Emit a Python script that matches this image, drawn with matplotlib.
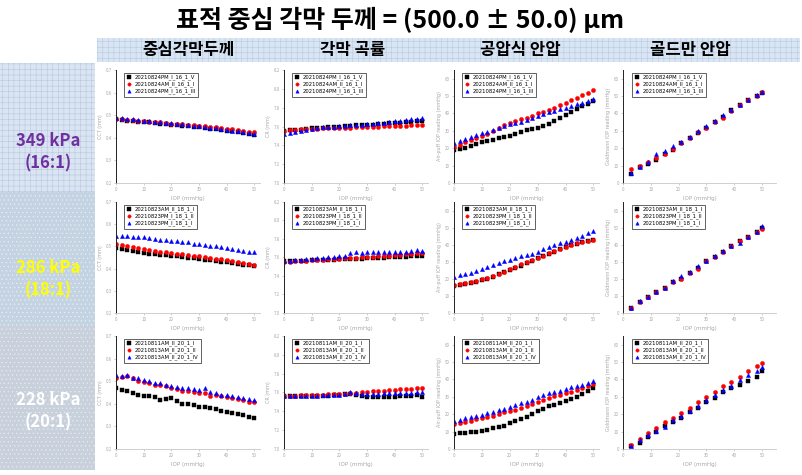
import matplotlib
matplotlib.use('Agg')
import matplotlib.pyplot as plt
from matplotlib.patches import Rectangle
from matplotlib.ticker import FormatStrFormatter

plt.rcParams['font.family'] = ['Noto Sans CJK KR', 'DejaVu Sans']
plt.rcParams['hatch.linewidth'] = 0.4

# ---------------- texts ----------------
title = '표적 중심 각막 두께 = (500.0 ± 50.0) μm'
col_titles = ['중심각막두께', '각막 곡률', '공압식 안압', '골드만 안압']
row_titles = ['349 kPa\n(16:1)', '286 kPa\n(18:1)', '228 kPa\n(20:1)']
y_labels = ['CCT (mm)', 'CR (mm)', 'Air-puff IOP reading (mmHg)', 'Goldmann IOP reading (mmHg)']
x_label = 'IOP (mmHg)'

labels_16 = ['20210824PM_I_16_1_V', '20210824AM_II_16_1_I', '20210824PM_I_16_1_III']
labels_18 = ['20210823AM_II_18_1_I', '20210823PM_I_18_1_II', '20210823PM_I_18_1_I']
labels_20 = ['20210811AM_II_20_1_I', '20210813AM_II_20_1_II', '20210813AM_II_20_1_IV']

# ---------------- x values ----------------
iop = [0, 2, 4, 6, 8, 10, 12, 14, 16, 18, 20, 22, 24, 26, 28, 30, 32, 34, 36, 38, 40, 42, 44, 46, 48, 50]
gat_iop = [3, 6, 9, 12, 15, 18, 21, 24, 27, 30, 33, 36, 39, 42, 45, 48, 50]

# ---------------- 349 kPa (16:1) ----------------
cct16_a = [0.482, 0.480, 0.474, 0.476, 0.471, 0.470, 0.468, 0.466, 0.463, 0.462, 0.458, 0.457, 0.454,
           0.452, 0.449, 0.447, 0.444, 0.441, 0.438, 0.435, 0.432, 0.428, 0.424, 0.420, 0.416, 0.412]
cct16_b = [0.485, 0.483, 0.480, 0.478, 0.476, 0.474, 0.472, 0.470, 0.468, 0.466, 0.463, 0.462, 0.460,
           0.458, 0.455, 0.453, 0.451, 0.448, 0.446, 0.443, 0.440, 0.437, 0.433, 0.430, 0.427, 0.424]
cct16_c = [0.488, 0.486, 0.484, 0.481, 0.478, 0.476, 0.474, 0.472, 0.470, 0.467, 0.465, 0.462, 0.460,
           0.457, 0.454, 0.451, 0.448, 0.445, 0.442, 0.439, 0.436, 0.432, 0.428, 0.425, 0.421, 0.418]
cr16_a = [7.556, 7.560, 7.565, 7.568, 7.574, 7.582, 7.585, 7.589, 7.594, 7.597, 7.600, 7.604, 7.607,
          7.611, 7.614, 7.618, 7.621, 7.625, 7.629, 7.632, 7.636, 7.641, 7.646, 7.651, 7.657, 7.662]
cr16_b = [7.556, 7.560, 7.566, 7.570, 7.575, 7.575, 7.578, 7.580, 7.582, 7.580, 7.582, 7.586, 7.584,
          7.590, 7.595, 7.598, 7.596, 7.600, 7.603, 7.605, 7.608, 7.606, 7.610, 7.612, 7.611, 7.615]
cr16_c = [7.520, 7.530, 7.545, 7.556, 7.568, 7.575, 7.583, 7.590, 7.594, 7.597, 7.605, 7.610, 7.612,
          7.618, 7.621, 7.626, 7.630, 7.634, 7.642, 7.648, 7.655, 7.662, 7.668, 7.676, 7.682, 7.690]
air16_a = [18.8, 19.5, 20.3, 21.4, 22.5, 23.5, 24.2, 25.0, 25.8, 26.5, 27.3, 28.3, 29.5,
           30.2, 30.8, 31.7, 32.8, 34.0, 35.5, 37.5, 39.4, 41.0, 42.6, 44.2, 45.6, 47.1]
air16_b = [20.8, 22.0, 23.3, 24.5, 25.8, 26.9, 28.4, 29.9, 31.5, 33.2, 34.6, 35.5, 36.6,
           37.6, 38.8, 40.0, 41.1, 42.2, 43.3, 44.6, 46.2, 47.6, 49.0, 50.5, 52.0, 53.5]
air16_c = [23.0, 24.0, 25.1, 26.2, 27.4, 28.5, 29.6, 30.6, 31.6, 32.6, 33.7, 34.4, 35.2,
           36.1, 37.3, 38.5, 39.6, 40.6, 41.5, 42.4, 43.3, 44.3, 45.3, 46.3, 47.4, 48.5]
gat16_a = [4.9, 9.2, 11.2, 13.3, 16.9, 19.0, 23.0, 26.1, 28.6, 31.4, 35.3, 38.0, 41.8, 44.7, 47.8, 50.0, 52.0]
gat16_b = [7.8, 9.8, 11.8, 14.1, 16.5, 19.8, 23.0, 26.1, 29.6, 31.8, 35.3, 37.5, 41.5, 44.7, 47.8, 50.2, 52.4]
gat16_c = [5.9, 9.2, 12.3, 16.9, 18.2, 21.4, 23.4, 26.5, 30.0, 33.0, 35.8, 39.2, 41.8, 45.0, 47.8, 50.5, 52.2]

# ---------------- 286 kPa (18:1) ----------------
cct18_a = [0.492, 0.488, 0.484, 0.480, 0.475, 0.470, 0.468, 0.466, 0.463, 0.460, 0.458, 0.455, 0.452,
           0.449, 0.446, 0.443, 0.440, 0.437, 0.434, 0.431, 0.428, 0.424, 0.421, 0.418, 0.414, 0.411]
cct18_b = [0.510, 0.506, 0.501, 0.497, 0.493, 0.488, 0.484, 0.481, 0.477, 0.474, 0.470, 0.467, 0.465,
           0.462, 0.459, 0.455, 0.451, 0.448, 0.445, 0.441, 0.437, 0.433, 0.429, 0.425, 0.421, 0.418]
cct18_c = [0.547, 0.546, 0.546, 0.544, 0.543, 0.541, 0.538, 0.535, 0.531, 0.528, 0.525, 0.523, 0.520,
           0.518, 0.513, 0.510, 0.507, 0.504, 0.500, 0.496, 0.492, 0.488, 0.485, 0.481, 0.477, 0.473]
cr18_a = [7.558, 7.560, 7.562, 7.564, 7.566, 7.568, 7.570, 7.572, 7.575, 7.577, 7.579, 7.580, 7.582,
          7.584, 7.586, 7.590, 7.593, 7.595, 7.598, 7.601, 7.604, 7.606, 7.609, 7.611, 7.613, 7.615]
cr18_b = [7.551, 7.555, 7.558, 7.562, 7.565, 7.568, 7.572, 7.576, 7.579, 7.583, 7.586, 7.590, 7.594,
          7.597, 7.600, 7.604, 7.607, 7.611, 7.615, 7.618, 7.622, 7.628, 7.634, 7.640, 7.647, 7.654]
cr18_c = [7.558, 7.565, 7.572, 7.578, 7.582, 7.586, 7.592, 7.598, 7.602, 7.606, 7.611, 7.620, 7.645,
          7.657, 7.650, 7.664, 7.660, 7.662, 7.658, 7.655, 7.657, 7.660, 7.664, 7.668, 7.680, 7.675]
air18_a = [15.8, 16.5, 17.2, 17.8, 18.4, 19.2, 20.2, 21.3, 22.6, 23.8, 25.0, 26.3, 27.6,
           29.0, 30.6, 32.1, 33.6, 34.8, 36.0, 37.4, 38.8, 39.8, 40.6, 41.4, 42.0, 42.7]
air18_b = [16.2, 17.0, 17.6, 18.2, 18.9, 19.7, 20.7, 21.8, 23.0, 24.3, 25.6, 27.0, 28.6,
           30.0, 31.2, 32.4, 33.6, 34.9, 36.2, 37.6, 38.9, 39.9, 40.8, 41.5, 42.2, 43.0]
air18_c = [21.2, 22.2, 23.0, 23.6, 24.8, 25.8, 27.0, 28.2, 29.2, 30.2, 31.2, 32.3, 33.4,
           34.1, 34.8, 36.0, 37.2, 38.6, 39.8, 40.8, 41.7, 42.6, 43.8, 45.2, 46.6, 48.0]
gat18_a = [3.0, 6.5, 9.5, 12.5, 14.5, 18.3, 20.2, 23.5, 26.3, 30.3, 33.0, 36.0, 39.0, 42.0, 44.5, 47.5, 49.5]
gat18_b = [3.0, 6.3, 9.5, 12.5, 14.5, 18.3, 20.0, 23.3, 26.0, 30.3, 33.0, 36.0, 39.0, 42.0, 44.5, 47.5, 49.0]
gat18_c = [3.2, 6.8, 9.5, 12.3, 14.8, 18.5, 21.5, 24.0, 27.5, 30.3, 33.2, 36.3, 39.3, 41.0, 44.5, 47.5, 51.0]

# ---------------- 228 kPa (20:1) ----------------
cct20_a = [0.468, 0.463, 0.457, 0.449, 0.438, 0.435, 0.435, 0.432, 0.416, 0.421, 0.426, 0.412, 0.401,
           0.399, 0.394, 0.387, 0.385, 0.382, 0.376, 0.368, 0.362, 0.359, 0.353, 0.350, 0.343, 0.338]
cct20_b = [0.516, 0.519, 0.524, 0.515, 0.501, 0.497, 0.494, 0.485, 0.482, 0.478, 0.468, 0.465, 0.457,
           0.456, 0.453, 0.446, 0.446, 0.435, 0.438, 0.434, 0.431, 0.426, 0.421, 0.416, 0.409, 0.406]
cct20_c = [0.526, 0.524, 0.526, 0.512, 0.512, 0.504, 0.500, 0.494, 0.490, 0.485, 0.479, 0.475, 0.471,
           0.468, 0.465, 0.460, 0.468, 0.453, 0.446, 0.441, 0.438, 0.435, 0.431, 0.426, 0.421, 0.416]
cr20_a = [7.564, 7.562, 7.565, 7.563, 7.561, 7.560, 7.564, 7.566, 7.568, 7.571, 7.575, 7.580, 7.589,
          7.570, 7.560, 7.553, 7.555, 7.554, 7.556, 7.555, 7.557, 7.558, 7.561, 7.567, 7.575, 7.553]
cr20_b = [7.564, 7.566, 7.568, 7.570, 7.573, 7.575, 7.576, 7.578, 7.580, 7.581, 7.582, 7.585, 7.590,
          7.596, 7.602, 7.607, 7.611, 7.615, 7.619, 7.624, 7.628, 7.632, 7.637, 7.642, 7.648, 7.653]
cr20_c = [7.564, 7.562, 7.566, 7.564, 7.563, 7.564, 7.567, 7.569, 7.571, 7.573, 7.575, 7.585, 7.607,
          7.590, 7.585, 7.582, 7.586, 7.588, 7.590, 7.591, 7.593, 7.595, 7.596, 7.598, 7.602, 7.600]
air20_a = [8.5, 9.0, 9.4, 9.7, 10.0, 10.4, 11.2, 11.8, 12.6, 13.5, 14.8, 16.0, 17.0,
           18.5, 20.0, 21.7, 23.0, 24.5, 25.5, 26.5, 27.6, 28.6, 29.8, 31.5, 33.5, 35.0]
air20_b = [14.3, 14.8, 15.6, 16.2, 17.0, 17.7, 18.4, 19.2, 20.0, 21.0, 21.6, 22.5, 23.6,
           24.6, 25.8, 27.2, 28.3, 29.4, 30.2, 31.0, 32.0, 33.0, 34.0, 35.2, 36.4, 37.5]
air20_c = [16.2, 16.8, 17.6, 18.4, 19.1, 19.8, 20.6, 21.2, 22.2, 23.2, 24.3, 25.2, 26.2,
           27.2, 28.4, 29.8, 31.0, 32.2, 32.6, 33.4, 34.6, 35.5, 36.3, 37.0, 38.0, 39.0]
gat20_a = [2.0, 3.3, 7.1, 9.6, 13.5, 15.4, 18.0, 21.2, 23.8, 26.9, 29.2, 33.0, 35.0, 36.9, 39.2, 41.7, 44.6]
gat20_b = [2.2, 5.8, 9.0, 12.3, 15.4, 18.0, 20.6, 23.5, 26.9, 29.8, 33.0, 36.0, 38.8, 41.7, 45.0, 47.5, 49.4]
gat20_c = [1.9, 5.2, 8.0, 10.4, 12.9, 16.7, 18.7, 21.9, 25.0, 28.3, 31.2, 34.0, 36.5, 39.8, 42.3, 44.6, 46.9]

# ---------------- assemble ----------------
rows = [
    (labels_16, [(cct16_a, cct16_b, cct16_c), (cr16_a, cr16_b, cr16_c),
                 (air16_a, air16_b, air16_c), (gat16_a, gat16_b, gat16_c)]),
    (labels_18, [(cct18_a, cct18_b, cct18_c), (cr18_a, cr18_b, cr18_c),
                 (air18_a, air18_b, air18_c), (gat18_a, gat18_b, gat18_c)]),
    (labels_20, [(cct20_a, cct20_b, cct20_c), (cr20_a, cr20_b, cr20_c),
                 (air20_a, air20_b, air20_c), (gat20_a, gat20_b, gat20_c)]),
]

W, H = 802, 475
fig = plt.figure(figsize=(W / 100, H / 100), dpi=100)
fig.patch.set_facecolor('white')


def fbox(l, t, r, b):
    return [l / W, 1 - b / H, (r - l) / W, (b - t) / H]


# title
fig.text(400 / W, 1 - 20 / H, title, ha='center', va='center', fontsize=18,
         fontweight='bold', color='black')

# column header band
fig.add_artist(Rectangle((97 / W, 1 - 62 / H), (800 - 97) / W, 24 / H, transform=fig.transFigure,
                         facecolor='#d9e5f2', edgecolor='#b7cbe4', hatch='+++', linewidth=0, zorder=0))
col_centers = [188, 353, 520, 690]
for cx, ct in zip(col_centers, col_titles):
    fig.text(cx / W, 1 - 50 / H, ct, ha='center', va='center', fontsize=12,
             fontweight='bold', color='black')

# row header blocks
row_blocks = [(63, 192), (192, 326), (326, 470)]
row_face = ['#dbe5f1', '#c4d3e1', '#c8d1db']
row_hatch = ['+++', '....', '....']
row_hcol = ['#b4c8e4', '#e8eef5', '#e8ecf1']
row_tcol = ['#7030a0', '#ffff00', '#ffffff']
row_tcy = [152, 279, 411]
for (t, b), fc, hh, hc, tc, ty, rt in zip(row_blocks, row_face, row_hatch, row_hcol, row_tcol, row_tcy, row_titles):
    fig.add_artist(Rectangle((0, 1 - b / H), 95 / W, (b - t) / H, transform=fig.transFigure,
                             facecolor=fc, edgecolor=hc, hatch=hh, linewidth=0, zorder=0))
    fig.text(48 / W, 1 - ty / H, rt, ha='center', va='center', fontsize=12, fontweight='bold',
             color=tc, linespacing=1.3)

col_lr = [(116, 260), (284, 428), (454, 599), (623, 776)]
row_tb = [(70, 183), (202, 313), (336, 449)]
xlims = [(0, 52), (0, 52), (0, 52), (0, 55)]
ylims = [(0.2, 0.7), (7.0, 8.2), (0, 65), (0, 65)]
yticks = [[0.2, 0.3, 0.4, 0.5, 0.6, 0.7], [7.0, 7.2, 7.4, 7.6, 7.8, 8.0, 8.2],
          [0, 10, 20, 30, 40, 50, 60], [0, 10, 20, 30, 40, 50, 60]]
yfmt = ['%.1f', '%.1f', '%d', '%d']
colors = ['#000000', '#ff0000', '#0000ff']
markers = ['s', 'o', '^']
gray = '#a8a8a8'

for r, (labels, panels) in enumerate(rows):
    t, b = row_tb[r]
    for c, series in enumerate(panels):
        l, rr = col_lr[c]
        ax = fig.add_axes(fbox(l, t, rr, b))
        xs = gat_iop if c == 3 else iop
        ms = 3.0
        for ys, col, mk, lab in zip(series, colors, markers, labels):
            ax.plot(xs, ys, linestyle='none', marker=mk, ms=ms, color=col,
                    markeredgewidth=0.3, label=lab)
        ax.set_xlim(*xlims[c])
        ax.set_ylim(*ylims[c])
        ax.set_xticks([0, 10, 20, 30, 40, 50])
        ax.set_yticks(yticks[c])
        ax.yaxis.set_major_formatter(FormatStrFormatter(yfmt[c]))
        ax.patch.set_alpha(0)
        for s in ['top', 'right']:
            ax.spines[s].set_visible(False)
        ax.spines['left'].set_color('#222222')
        ax.spines['left'].set_linewidth(0.7)
        ax.spines['bottom'].set_color('#c8c8c8')
        ax.spines['bottom'].set_linewidth(0.6)
        ax.tick_params(axis='both', length=1.5, width=0.4, colors=gray, labelsize=3.2, pad=1.5)
        ax.set_ylabel(y_labels[c], fontsize=3.5, color=gray, labelpad=2, family='DejaVu Sans')
        ax.set_xlabel(x_label, fontsize=4, color=gray, labelpad=3, family='DejaVu Sans')
        leg = ax.legend(loc='upper left', bbox_to_anchor=(0.04, 1.0), frameon=True,
                        fancybox=False, edgecolor='#222222', framealpha=1, borderpad=0.4,
                        handlelength=1.0, handletextpad=0.6, labelspacing=0.25,
                        markerscale=0.8, prop={'family': 'DejaVu Sans', 'size': 3.8})
        leg.get_frame().set_linewidth(0.5)

fig.savefig('out.png', dpi=100, facecolor='white')
